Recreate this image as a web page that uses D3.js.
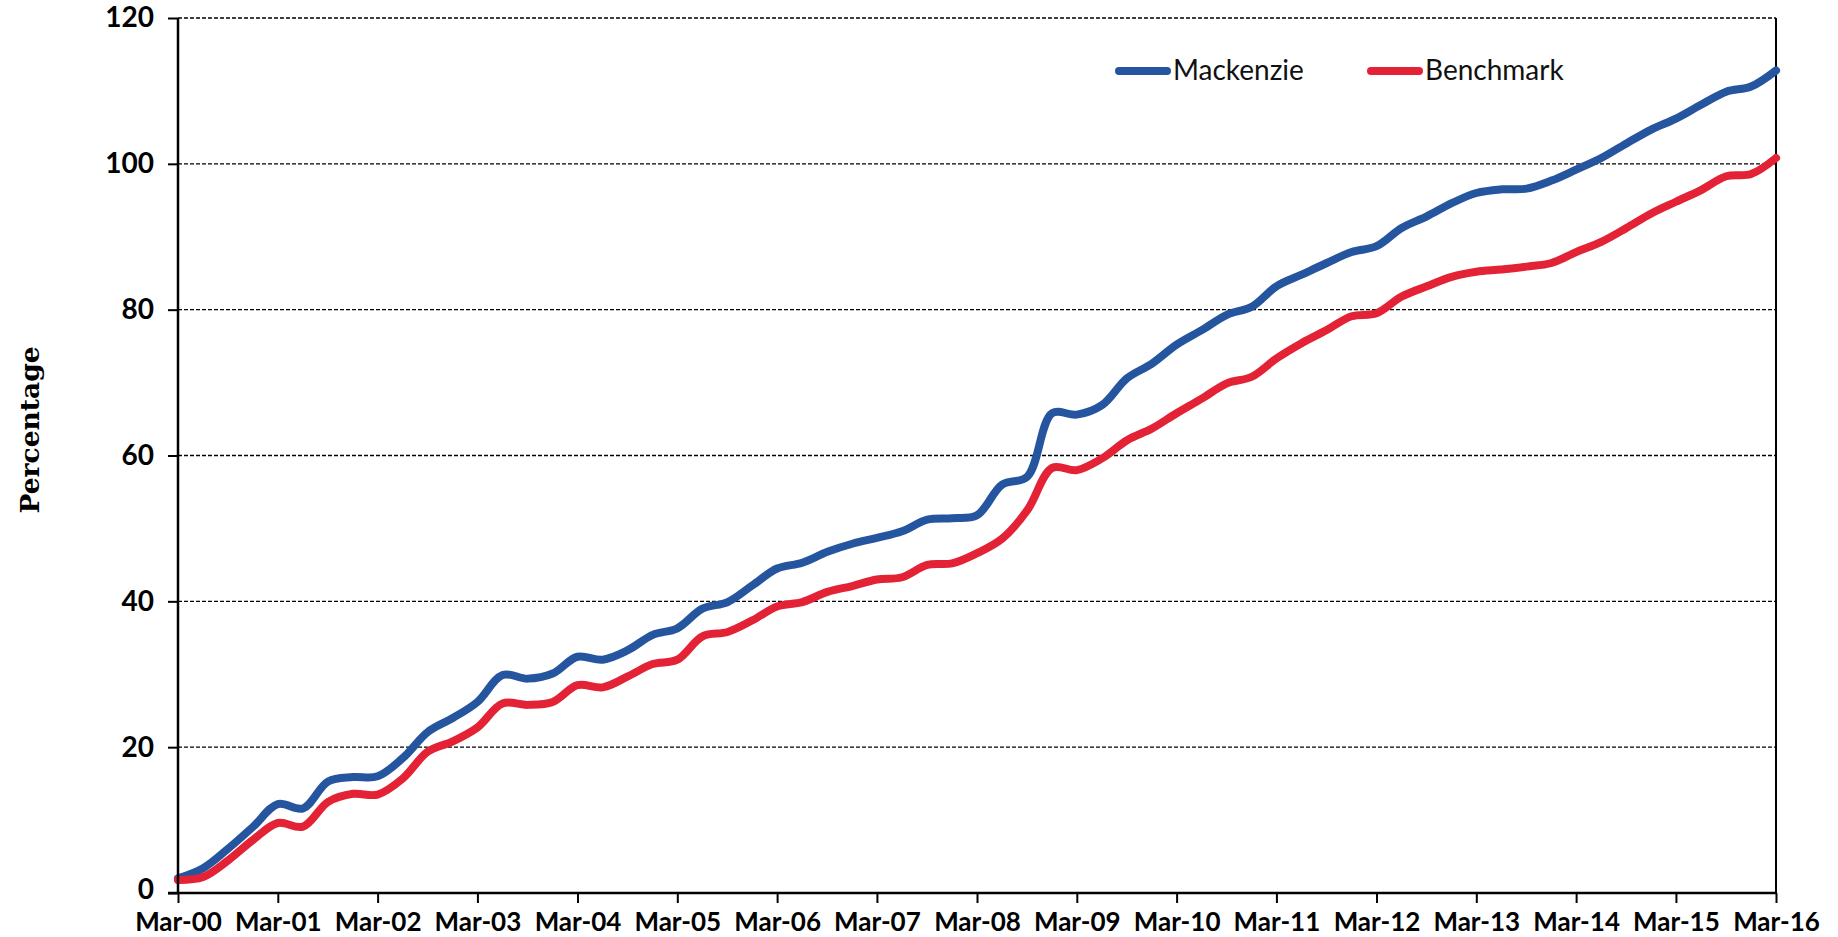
<!DOCTYPE html>
<html>
<head>
<meta charset="utf-8">
<script src="https://cdn.jsdelivr.net/npm/d3@7"></script>
<style>
  html, body { margin: 0; padding: 0; background: #fff; }
  svg { display: block; }
</style>
</head>
<body>
<svg id="chart" width="1838" height="937"></svg>
<script>
// ---- Data (quarterly, Mar-00 .. Mar-16) ----
const seriesNames = ["Mackenzie", "Benchmark"];
const mackenzie = [
  2.0, 3.4, 6.1, 9.1,
  12.2, 11.6, 15.3, 15.9,
  16.0, 18.5, 22.1, 24.0,
  26.2, 29.9, 29.4, 30.1,
  32.4, 32.0, 33.3, 35.4,
  36.3, 39.0, 39.9, 42.2,
  44.5, 45.3, 46.8, 47.9,
  48.7, 49.6, 51.2, 51.4,
  51.8, 56.0, 57.1, 65.8,
  65.6, 66.9, 70.6, 72.6,
  75.2, 77.2, 79.3, 80.4,
  83.2, 84.8, 86.4, 87.9,
  88.7, 91.2, 92.8, 94.6,
  96.0, 96.5, 96.6, 97.7,
  99.2, 100.8, 102.8, 104.7,
  106.2, 108.1, 109.9, 110.6,
  112.8
];
const benchmark = [
  1.8, 2.2, 4.5, 7.3,
  9.6, 9.1, 12.5, 13.6,
  13.5, 15.7, 19.4, 20.8,
  22.7, 26.0, 25.8, 26.2,
  28.5, 28.2, 29.7, 31.4,
  32.0, 35.2, 35.8, 37.4,
  39.3, 39.9, 41.3, 42.1,
  43.0, 43.3, 45.0, 45.2,
  46.6, 48.6, 52.5, 58.3,
  58.0, 59.6, 62.1, 63.7,
  65.8, 67.8, 69.9, 70.8,
  73.3, 75.4, 77.2, 79.1,
  79.5, 81.8, 83.2, 84.5,
  85.2, 85.5, 85.9, 86.4,
  87.9, 89.3, 91.2, 93.2,
  94.8, 96.4, 98.3, 98.6,
  100.8
];
const xTickLabels = ["Mar-00","Mar-01","Mar-02","Mar-03","Mar-04","Mar-05","Mar-06","Mar-07",
  "Mar-08","Mar-09","Mar-10","Mar-11","Mar-12","Mar-13","Mar-14","Mar-15","Mar-16"];
const yTicks = [0, 20, 40, 60, 80, 100, 120];
const colors = ["#2655a0", "#e32236"];

// quarter-end dates: Mar 2000 ... Mar 2016
const parseQ = d3.timeParse("%b-%y");
const dates = d3.timeMonth.range(new Date(2000, 2, 1), new Date(2016, 3, 1), 3);

// ---- Layout ----
const svg = d3.select("#chart");
const M = { left: 178, top: 18, right: 62, bottom: 44 };
const W = 1838 - M.left - M.right;   // 1598
const H = 937 - M.top - M.bottom;    // 875

const x = d3.scaleTime().domain([dates[0], dates[dates.length - 1]]).range([0, W]);
const y = d3.scaleLinear().domain([0, 120]).range([H, 0]);

const g = svg.append("g").attr("transform", `translate(${M.left},${M.top})`);

// gridlines
g.append("g").selectAll("line").data(yTicks.filter(d => d > 0)).join("line")
  .attr("x1", 0).attr("x2", W)
  .attr("y1", d => y(d)).attr("y2", d => y(d))
  .attr("stroke", "#000").attr("stroke-width", 1.3)
  .attr("stroke-dasharray", "4,2");

// right border
g.append("line").attr("x1", W).attr("x2", W).attr("y1", 0).attr("y2", H)
  .attr("stroke", "#000").attr("stroke-width", 2);

// lines
const line = d3.line()
  .x((d, i) => x(dates[i]))
  .y(d => y(d))
  .curve(d3.curveCatmullRom.alpha(0.5));

[mackenzie, benchmark].forEach((s, k) => {
  g.append("path").datum(s)
    .attr("fill", "none")
    .attr("stroke", colors[k])
    .attr("stroke-width", 8)
    .attr("stroke-linejoin", "round")
    .attr("stroke-linecap", "round")
    .attr("d", line);
});

// y axis
const yAxis = g.append("g")
  .call(d3.axisLeft(y).tickValues(yTicks).tickSize(10).tickPadding(14).tickFormat(d3.format("d")));
yAxis.select(".domain").attr("stroke-width", 2.5).attr("d", `M0,${H}V0`);
yAxis.selectAll(".tick line").attr("stroke-width", 2);
yAxis.selectAll("text")
  .attr("font-family", "Lato, 'Liberation Sans', sans-serif")
  .attr("font-weight", "bold").attr("font-size", 28).attr("fill", "#000");
yAxis.selectAll(".tick").filter(d => d === 0).select("text").attr("dy", "0.2em");

// x axis
const xTickDates = xTickLabels.map(parseQ);
const xAxis = g.append("g").attr("transform", `translate(0,${H})`)
  .call(d3.axisBottom(x).tickValues(xTickDates).tickSize(10).tickPadding(10)
    .tickFormat((d, i) => xTickLabels[i]));
xAxis.select(".domain").attr("stroke-width", 2.5).attr("d", `M-10,0H${W}`);
xAxis.selectAll(".tick line").attr("stroke-width", 2);
xAxis.selectAll("text")
  .attr("font-family", "Lato, 'Liberation Sans', sans-serif")
  .attr("font-weight", "bold").attr("font-size", 26).attr("fill", "#000");

// y axis title
svg.append("text")
  .attr("transform", `translate(39,430) rotate(-90)`)
  .attr("text-anchor", "middle")
  .attr("font-family", "'DejaVu Serif', serif")
  .attr("font-weight", "bold").attr("font-size", 26.5)
  .text("Percentage");

// legend
const legendX = [1115, 1367];
seriesNames.forEach((name, k) => {
  const lg = svg.append("g").attr("transform", `translate(${legendX[k]},71)`);
  lg.append("line").attr("x1", 4).attr("x2", 52).attr("y1", 0).attr("y2", 0)
    .attr("stroke", colors[k]).attr("stroke-width", 8).attr("stroke-linecap", "round");
  lg.append("text").attr("x", 58).attr("y", 9)
    .attr("font-family", "Lato, sans-serif").attr("font-size", 28).attr("fill", "#111")
    .text(name);
});
</script>
</body>
</html>
